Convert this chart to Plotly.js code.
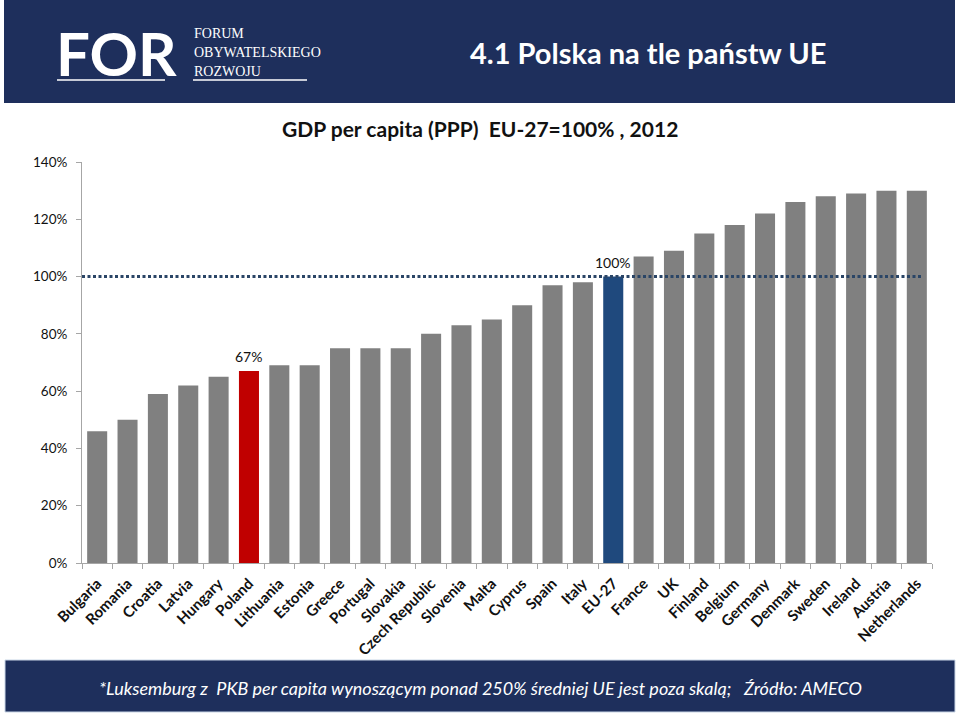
<!DOCTYPE html>
<html>
<head>
<meta charset="utf-8">
<script src="https://cdn.plot.ly/plotly-3.0.1.min.js"></script>
<style>
  html, body { margin: 0; padding: 0; background: #ffffff; }
  #chart { width: 960px; height: 716px; }
</style>
</head>
<body>
<div id="chart"></div>
<script>
// ---- data ----
const countries = ["Bulgaria","Romania","Croatia","Latvia","Hungary","Poland","Lithuania","Estonia","Greece","Portugal","Slovakia","Czech Republic","Slovenia","Malta","Cyprus","Spain","Italy","EU-27","France","UK","Finland","Belgium","Germany","Denmark","Sweden","Ireland","Austria","Netherlands"];
const gdpPerCapita = [46, 50, 59, 62, 65, 67, 69, 69, 75, 75, 75, 80, 83, 85, 90, 97, 98, 100, 107, 109, 115, 118, 122, 126, 128, 129, 130, 130];
const highlighted = ["Poland", "EU-27"];
const referenceLevel = 100;
const yTickValues = [0, 20, 40, 60, 80, 100, 120, 140];
const mainTitle = "4.1 Polska na tle państw UE";
const chartTitle = "GDP per capita (PPP)  EU-27=100% , 2012";
const footnote = "*Luksemburg z\u00a0 PKB per capita wynoszącym ponad 250% średniej UE jest poza skalą;\u00a0\u00a0 Źródło: AMECO";
const logoLines = ["FORUM", "OBYWATELSKIEGO", "ROZWOJU"];

// ---- styling ----
const NAVY = "#1e2f5c";
const colorFor = c => c === "Poland" ? "#c00000" : (c === "EU-27" ? "#1f497d" : "#808080");

// plot area in pixels
const L = 82, W = 850, B = 563, H = 401;
const px = x => (x - L) / W;
const py = y => (B - y) / H;

const trace = {
  type: "bar",
  x: countries,
  y: gdpPerCapita,
  marker: { color: countries.map(colorFor) },
  hoverinfo: "x+y"
};

const shapes = [
  // header band
  { type: "rect", xref: "paper", yref: "paper", x0: px(4), x1: px(955), y0: py(0), y1: py(103), fillcolor: NAVY, line: { width: 0 }, layer: "below" },
  // footer band
  { type: "rect", xref: "paper", yref: "paper", x0: px(5), x1: px(955), y0: py(660), y1: py(712), fillcolor: NAVY, line: { color: "#c9d6e6", width: 1 }, layer: "below" },
  // logo underlines
  { type: "line", xref: "paper", yref: "paper", x0: px(57), x1: px(165), y0: py(80), y1: py(80), line: { color: "#ffffff", width: 1.5 } },
  { type: "line", xref: "paper", yref: "paper", x0: px(193), x1: px(307), y0: py(80), y1: py(80), line: { color: "#ffffff", width: 1.5 } },
  // reference line (EU-27 = 100%)
  { type: "line", xref: "paper", yref: "y", x0: 0, x1: px(922), y0: referenceLevel, y1: referenceLevel, line: { color: "#2a4566", width: 3, dash: "3px,2.5px" } }
];

const annotations = [
  { xref: "paper", yref: "paper", x: px(648), y: py(52), text: "<b>" + mainTitle + "</b>", showarrow: false, font: { family: "Lato, 'Open Sans', sans-serif", size: 29, color: "#ffffff" }, xanchor: "center", yanchor: "middle" },
  { xref: "paper", yref: "paper", x: px(54), y: py(53), text: "<b>FOR</b>", showarrow: false, font: { family: "Lato, 'Liberation Sans', sans-serif", size: 60, color: "#ffffff" }, xanchor: "left", yanchor: "middle" },
  { xref: "paper", yref: "paper", x: px(480), y: py(129), text: "<b>" + chartTitle + "</b>", showarrow: false, font: { family: "Lato, 'Open Sans', sans-serif", size: 21, color: "#111111" }, xanchor: "center", yanchor: "middle" },
  { xref: "paper", yref: "paper", x: px(480), y: py(688), text: "<i>" + footnote + "</i>", showarrow: false, font: { family: "Lato, 'Open Sans', sans-serif", size: 18, color: "#ffffff" }, xanchor: "center", yanchor: "middle" }
];
logoLines.forEach((t, i) => {
  annotations.push({ xref: "paper", yref: "paper", x: px(192), y: py(34 + i * 18.5), text: t, showarrow: false, font: { family: "'Liberation Serif', 'DejaVu Serif', serif", size: 14, color: "#ffffff" }, xanchor: "left", yanchor: "middle" });
});
countries.forEach((c, i) => {
  if (highlighted.includes(c)) {
    annotations.push({ xref: "x", yref: "y", x: c, y: gdpPerCapita[i], text: gdpPerCapita[i] + "%", showarrow: false, yanchor: "bottom", yshift: 4, font: { family: "Lato, 'Open Sans', sans-serif", size: 14, color: "#111111" } });
  }
});

const layout = {
  width: 960, height: 716,
  margin: { l: 82, r: 28, t: 162, b: 153, pad: 0 },
  paper_bgcolor: "#ffffff",
  plot_bgcolor: "#ffffff",
  showlegend: false,
  bargap: 0.34,
  font: { family: "Lato, 'Open Sans', sans-serif", color: "#111111" },
  xaxis: {
    type: "category",
    showline: true, linecolor: "#a6a6a6", linewidth: 1,
    ticks: "outside", tickson: "boundaries", ticklen: 5, tickcolor: "#a6a6a6",
    tickangle: -45,
    ticklabelstandoff: 5,
    tickfont: { family: "Lato, 'Open Sans', sans-serif", size: 15, color: "#111111", weight: "bold" },
    showgrid: false, zeroline: false, fixedrange: true
  },
  yaxis: {
    range: [0, 140],
    tickvals: yTickValues,
    ticktext: yTickValues.map(v => v + "%"),
    showline: true, linecolor: "#a6a6a6", linewidth: 1,
    ticks: "outside", ticklen: 5, tickcolor: "#a6a6a6",
    ticklabelstandoff: 6,
    tickfont: { family: "Lato, 'Open Sans', sans-serif", size: 13.5, color: "#111111" },
    showgrid: false, zeroline: false, fixedrange: true
  },
  shapes: shapes,
  annotations: annotations
};

Plotly.newPlot("chart", [trace], layout, { displayModeBar: false, staticPlot: true });
</script>
</body>
</html>
